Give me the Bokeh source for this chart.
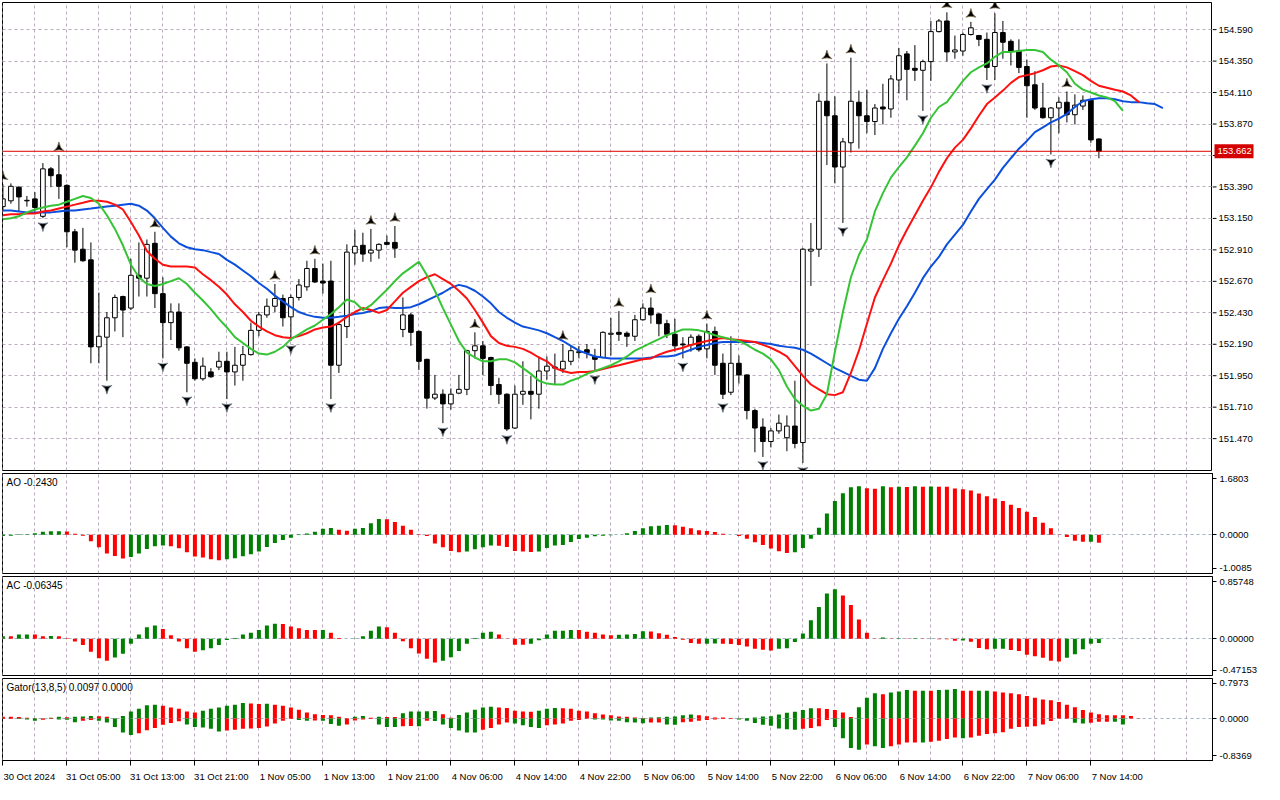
import math
from bokeh.plotting import figure
from bokeh.layouts import column, row
from bokeh.models import (ColumnDataSource, Range1d, FixedTicker, NumeralTickFormatter,
                          Grid, Span, Label, CustomJSTickFormatter)
from bokeh.core.properties import value
from bokeh.embed import file_html
from bokeh.resources import INLINE

# ---------------- data (H1 bars) ----------------
open_ = [
153.240, 153.284, 153.388, 153.284, 153.299, 153.166, 153.528, 153.483, 153.402, 153.048,
152.915, 152.834, 152.170, 152.244, 152.392, 152.554, 152.466, 152.716, 152.694, 152.960,
152.576, 152.355, 152.436, 152.170, 152.052, 151.927, 151.979, 152.016, 152.060, 151.979,
152.030, 152.111, 152.296, 152.414, 152.480, 152.539, 152.399, 152.547, 152.628, 152.768,
152.672, 152.672, 152.030, 152.325, 152.886, 152.945, 152.886, 152.908, 152.967, 152.967,
152.303, 152.414, 152.288, 152.075, 151.780, 151.809, 151.735, 151.817, 151.846, 152.141,
152.178, 152.089, 151.883, 151.809, 151.551, 151.809, 151.831, 151.809, 151.986, 152.008,
152.001, 152.060, 152.126, 152.148, 152.097, 152.089, 152.266, 152.281, 152.274, 152.251,
152.377, 152.466, 152.421, 152.347, 152.266, 152.192, 152.185, 152.251, 152.155, 152.288,
152.045, 151.824, 152.045, 151.956, 151.684, 151.558, 151.448, 151.529, 151.477, 151.566,
151.440, 152.901, 152.915, 154.044, 153.933, 153.542, 153.727, 154.036, 153.933, 153.889,
154.000, 153.985, 154.206, 154.405, 154.295, 154.280, 154.346, 154.575, 154.656, 154.420,
154.427, 154.553, 154.545, 154.516, 154.309, 154.568, 154.501, 154.427, 154.309, 154.169,
153.992, 153.918, 153.992, 154.036, 153.941, 154.007, 154.051, 153.756]
high = [
153.410, 153.417, 153.395, 153.321, 153.351, 153.572, 153.542, 153.631, 153.410, 153.070,
153.078, 152.967, 152.584, 152.436, 152.569, 152.561, 152.842, 152.967, 152.989, 153.048,
152.701, 152.502, 152.502, 152.175, 152.082, 152.089, 152.008, 152.133, 152.133, 152.170,
152.177, 152.355, 152.436, 152.539, 152.650, 152.569, 152.569, 152.687, 152.827, 152.842,
152.805, 152.827, 152.362, 152.952, 153.063, 153.041, 153.070, 152.960, 153.019, 153.092,
152.547, 152.429, 152.295, 152.080, 151.956, 151.846, 151.853, 151.956, 152.148, 152.281,
152.215, 152.095, 151.934, 151.816, 151.875, 152.060, 151.949, 152.097, 152.097, 152.119,
152.192, 152.177, 152.177, 152.192, 152.155, 152.288, 152.392, 152.443, 152.288, 152.414,
152.502, 152.547, 152.429, 152.377, 152.384, 152.244, 152.266, 152.266, 152.347, 152.325,
152.119, 152.251, 152.104, 151.960, 151.698, 151.625, 151.551, 151.654, 151.647, 151.912,
152.923, 153.115, 154.103, 154.332, 154.081, 153.764, 154.376, 154.125, 154.132, 154.022,
154.177, 154.243, 154.450, 154.427, 154.472, 154.361, 154.656, 154.671, 154.722, 154.545,
154.568, 154.649, 154.550, 154.568, 154.715, 154.656, 154.516, 154.516, 154.361, 154.273,
154.184, 154.000, 154.073, 154.118, 154.096, 154.088, 154.059, 153.760]
low = [
153.203, 153.262, 153.203, 153.240, 153.203, 153.152, 153.388, 153.299, 152.930, 152.812,
152.819, 152.045, 152.045, 151.912, 152.288, 152.244, 152.451, 152.554, 152.554, 152.466,
152.082, 152.222, 152.141, 151.824, 151.912, 151.912, 151.934, 151.993, 151.772, 151.875,
151.912, 152.104, 152.251, 152.392, 152.436, 152.325, 152.215, 152.524, 152.598, 152.657,
152.576, 151.772, 151.971, 152.237, 152.797, 152.819, 152.819, 152.842, 152.945, 152.849,
152.244, 152.178, 151.993, 151.699, 151.765, 151.588, 151.691, 151.809, 151.802, 152.082,
151.956, 151.802, 151.735, 151.529, 151.544, 151.728, 151.617, 151.699, 151.920, 151.883,
151.971, 152.030, 152.082, 152.082, 151.986, 152.082, 152.104, 152.215, 152.170, 152.215,
152.370, 152.347, 152.251, 152.237, 152.133, 152.082, 152.133, 152.133, 152.082, 151.956,
151.772, 151.802, 151.890, 151.617, 151.366, 151.330, 151.403, 151.507, 151.374, 151.396,
151.285, 152.635, 152.856, 153.557, 153.417, 153.115, 153.653, 153.682, 153.800, 153.786,
153.867, 153.918, 154.103, 154.051, 154.199, 153.970, 154.199, 154.568, 154.346, 154.368,
154.391, 154.545, 154.464, 154.206, 154.206, 154.368, 154.317, 154.258, 153.918, 153.978,
153.911, 153.638, 153.800, 153.882, 153.867, 153.978, 153.727, 153.609]
close_ = [
153.299, 153.395, 153.314, 153.288, 153.233, 153.528, 153.476, 153.395, 153.048, 152.908,
152.827, 152.170, 152.251, 152.392, 152.547, 152.451, 152.716, 152.694, 152.952, 152.576,
152.355, 152.436, 152.163, 152.045, 151.927, 152.023, 151.942, 152.060, 151.979, 152.030,
152.111, 152.296, 152.414, 152.480, 152.539, 152.392, 152.547, 152.642, 152.768, 152.665,
152.657, 152.030, 152.340, 152.893, 152.937, 152.878, 152.908, 152.952, 152.952, 152.923,
152.414, 152.281, 152.060, 151.779, 151.809, 151.735, 151.809, 151.846, 152.141, 152.178,
152.082, 151.875, 151.809, 151.544, 151.809, 151.831, 151.809, 151.986, 152.023, 152.016,
152.060, 152.141, 152.133, 152.126, 152.075, 152.281, 152.274, 152.266, 152.251, 152.377,
152.466, 152.414, 152.347, 152.266, 152.178, 152.185, 152.244, 152.148, 152.288, 152.030,
151.809, 152.045, 151.956, 151.684, 151.551, 151.448, 151.529, 151.588, 151.566, 151.433,
152.915, 152.915, 154.044, 153.933, 153.542, 153.734, 154.044, 153.933, 153.889, 153.992,
153.985, 154.214, 154.391, 154.287, 154.280, 154.346, 154.575, 154.656, 154.420, 154.435,
154.553, 154.604, 154.516, 154.302, 154.568, 154.494, 154.427, 154.302, 154.162, 153.992,
153.918, 153.992, 154.036, 153.941, 154.014, 154.051, 153.749, 153.662]

# Alligator lines as drawn (already shifted forward: jaw +8, teeth +5, lips +3 bars)
jaw = [
153.210, 153.210, 153.203, 153.196, 153.196, 153.196, 153.196, 153.203, 153.210, 153.210,
153.218, 153.225, 153.233, 153.240, 153.247, 153.255, 153.262, 153.247, 153.210, 153.151,
153.078, 153.011, 152.960, 152.930, 152.915, 152.908, 152.893, 152.879, 152.834, 152.797,
152.753, 152.709, 152.657, 152.613, 152.561, 152.517, 152.473, 152.436, 152.414, 152.399,
152.392, 152.392, 152.399, 152.407, 152.421, 152.429, 152.443, 152.466, 152.473, 152.466,
152.466, 152.473, 152.495, 152.524, 152.554, 152.583, 152.620, 152.643, 152.628, 152.598,
152.554, 152.502, 152.436, 152.392, 152.355, 152.325, 152.311, 152.296, 152.274, 152.244,
152.215, 152.178, 152.141, 152.119, 152.097, 152.089, 152.082, 152.082, 152.082, 152.082,
152.082, 152.089, 152.097, 152.097, 152.104, 152.126, 152.148, 152.170, 152.185, 152.200,
152.207, 152.207, 152.207, 152.207, 152.207, 152.200, 152.192, 152.178, 152.170, 152.163,
152.148, 152.119, 152.082, 152.045, 152.008, 151.979, 151.949, 151.920, 151.912, 152.008,
152.155, 152.274, 152.384, 152.480, 152.583, 152.694, 152.783, 152.856, 152.952, 153.026,
153.100, 153.203, 153.299, 153.373, 153.446, 153.535, 153.609, 153.682, 153.741, 153.808,
153.845, 153.882, 153.911, 153.948, 154.000, 154.044, 154.059, 154.066, 154.066, 154.059,
154.044, 154.037, 154.037, 154.029, 154.022, 153.992]
teeth = [
153.174, 153.181, 153.181, 153.188, 153.188, 153.203, 153.210, 153.225, 153.240, 153.255,
153.269, 153.284, 153.284, 153.277, 153.255, 153.218, 153.122, 153.019, 152.901, 152.842,
152.797, 152.783, 152.783, 152.783, 152.775, 152.724, 152.679, 152.628, 152.569, 152.495,
152.436, 152.369, 152.325, 152.288, 152.259, 152.244, 152.237, 152.252, 152.274, 152.303,
152.318, 152.325, 152.355, 152.399, 152.436, 152.466, 152.451, 152.429, 152.451, 152.517,
152.583, 152.628, 152.672, 152.702, 152.724, 152.687, 152.650, 152.598, 152.539, 152.451,
152.355, 152.252, 152.200, 152.178, 152.170, 152.155, 152.126, 152.089, 152.060, 152.008,
151.986, 151.971, 151.979, 151.979, 151.986, 152.001, 152.016, 152.030, 152.045, 152.060,
152.075, 152.082, 152.111, 152.133, 152.148, 152.163, 152.185, 152.200, 152.215, 152.229,
152.237, 152.229, 152.222, 152.215, 152.207, 152.185, 152.163, 152.133, 152.097, 152.023,
151.949, 151.883, 151.846, 151.809, 151.802, 151.824, 151.971, 152.141, 152.347, 152.547,
152.679, 152.805, 152.945, 153.063, 153.174, 153.284, 153.387, 153.505, 153.609, 153.690,
153.749, 153.837, 153.933, 154.022, 154.073, 154.125, 154.184, 154.228, 154.243, 154.258,
154.280, 154.309, 154.317, 154.302, 154.273, 154.243, 154.199, 154.162, 154.147, 154.132,
154.118, 154.088, 154.037]
lips = [
153.144, 153.151, 153.166, 153.196, 153.218, 153.233, 153.247, 153.255, 153.277, 153.299,
153.321, 153.306, 153.262, 153.174, 153.070, 152.945, 152.797, 152.701, 152.650, 152.635,
152.650, 152.672, 152.694, 152.650, 152.583, 152.524, 152.458, 152.384, 152.318, 152.244,
152.200, 152.155, 152.119, 152.111, 152.133, 152.170, 152.229, 152.266, 152.303, 152.333,
152.377, 152.421, 152.473, 152.532, 152.510, 152.451, 152.488, 152.547, 152.606, 152.672,
152.731, 152.775, 152.819, 152.716, 152.598, 152.466, 152.340, 152.215, 152.126, 152.089,
152.060, 152.060, 152.075, 152.075, 152.052, 152.008, 151.964, 151.912, 151.890, 151.883,
151.883, 151.912, 151.934, 151.964, 151.986, 152.008, 152.030, 152.060, 152.097, 152.141,
152.170, 152.200, 152.229, 152.259, 152.281, 152.303, 152.303, 152.296, 152.281, 152.259,
152.244, 152.229, 152.215, 152.185, 152.148, 152.119, 152.075, 151.993, 151.868, 151.772,
151.720, 151.684, 151.698, 151.809, 152.133, 152.436, 152.701, 152.871, 152.989, 153.203,
153.343, 153.461, 153.542, 153.616, 153.705, 153.800, 153.918, 154.000, 154.037, 154.118,
154.199, 154.265, 154.302, 154.332, 154.383, 154.420, 154.420, 154.427, 154.435, 154.435,
154.420, 154.361, 154.317, 154.265, 154.177, 154.132, 154.110, 154.088, 154.073, 154.044,
153.970]

fractal_up = [0, 7, 19, 34, 39, 46, 49, 59, 70, 77, 81, 88, 103, 106, 118, 121, 124, 133]
fractal_dn = [5, 13, 20, 23, 28, 36, 41, 55, 63, 74, 85, 90, 95, 100, 105, 115, 123, 131]

ao = [
-0.04, -0.03, 0.01, 0.012, 0.04, 0.09, 0.10, 0.105, 0.095, 0.03,
-0.03, -0.20, -0.38, -0.57, -0.64, -0.72, -0.67, -0.57, -0.43, -0.35,
-0.33, -0.35, -0.41, -0.53, -0.66, -0.69, -0.74, -0.77, -0.74, -0.71,
-0.65, -0.59, -0.51, -0.37, -0.25, -0.16, -0.09, 0.01, 0.035, 0.09,
0.18, 0.20, 0.15, 0.12, 0.18, 0.20, 0.34, 0.47, 0.465, 0.38,
0.27, 0.15, 0.01, -0.04, -0.27, -0.38, -0.49, -0.53, -0.51, -0.44,
-0.38, -0.33, -0.335, -0.37, -0.49, -0.51, -0.52, -0.51, -0.40, -0.33,
-0.31, -0.22, -0.13, -0.09, -0.05, -0.03, -0.015, -0.005, 0.04, 0.11,
0.19, 0.25, 0.27, 0.29, 0.285, 0.24, 0.19, 0.13, 0.11, 0.08,
0.03, -0.005, -0.04, -0.12, -0.23, -0.31, -0.42, -0.50, -0.55, -0.53,
-0.40, -0.12, 0.21, 0.64, 1.01, 1.25, 1.43, 1.46, 1.40, 1.38,
1.46, 1.43, 1.44, 1.435, 1.46, 1.445, 1.45, 1.445, 1.44, 1.39,
1.37, 1.33, 1.24, 1.16, 1.09, 1.01, 0.90, 0.80, 0.69, 0.53,
0.36, 0.19, -0.01, -0.07, -0.18, -0.215, -0.21, -0.243]
ao_colors = ("GGGGGGGG RRRRRRRR GGGGG RRRRRRR GGGGGGGGGGGGGG RR GGGG RRRRRRRRRR GGGG RRRRR "
             "GGGGGGGGGGGGGGGGG RRRRRRRRRRRRRRR GGGGGGGGG RR GRGRGRG RRRRRRRRRRRRRRRRRRR GR")

ac = [
0.04, 0.04, 0.066, 0.066, 0.064, 0.04, 0.042, 0.04, 0.01, -0.04,
-0.093, -0.195, -0.293, -0.328, -0.28, -0.226, -0.075, 0.066, 0.173, 0.2,
0.146, 0.053, -0.04, -0.142, -0.195, -0.173, -0.142, -0.093, -0.018, 0.013,
0.066, 0.093, 0.133, 0.2, 0.226, 0.222, 0.186, 0.16, 0.133, 0.132,
0.134, 0.093, 0.013, 0.002, 0.004, 0.04, 0.12, 0.186, 0.173, 0.093,
-0.035, -0.142, -0.222, -0.3, -0.355, -0.328, -0.275, -0.182, -0.075, 0.013,
0.093, 0.106, 0.066, -0.003, -0.089, -0.09, -0.075, -0.022, 0.066, 0.12,
0.121, 0.133, 0.132, 0.106, 0.093, 0.066, 0.053, 0.062, 0.065, 0.071,
0.115, 0.11, 0.084, 0.062, 0.027, -0.013, -0.062, -0.075, -0.073, -0.07,
-0.075, -0.078, -0.093, -0.115, -0.15, -0.164, -0.177, -0.15, -0.14, -0.049,
0.08, 0.28, 0.48, 0.68, 0.745, 0.65, 0.51, 0.29, 0.093, 0.004,
0.02, 0.004, 0.01, 0.004, 0.01, -0.004, 0.004, -0.005, -0.006, -0.027,
-0.025, -0.044, -0.137, -0.155, -0.15, -0.148, -0.168, -0.182, -0.24, -0.26,
-0.284, -0.328, -0.341, -0.284, -0.23, -0.155, -0.075, -0.063]
ac_colors = ("GRGGRRGRRR RRRRGGGGGG RRRRRGGGGG GGGGGRRRRR GRRRGGGGRR RRRRRGGGGG GGRRRRGGGG "
             "GGRRRRRGGG GRRRRRRRGG RRRRRRRGGG GGGGGRRRRR GRGRGRGRRR GRRRGGRRRR RRRGGGGG")

gator_up = [
0.04, 0.04, 0.035, 0.02, 0.008, 0.01, 0.02, 0.04, 0.03, 0.04,
0.045, 0.06, 0.055, 0.04, 0.01, 0.06, 0.16, 0.22, 0.30, 0.31,
0.29, 0.25, 0.22, 0.16, 0.14, 0.18, 0.22, 0.25, 0.29, 0.31,
0.35, 0.34, 0.33, 0.335, 0.31, 0.29, 0.25, 0.20, 0.14, 0.10,
0.08, 0.075, 0.04, 0.01, 0.04, 0.06, 0.02, 0.04, 0.038, 0.035,
0.12, 0.16, 0.16, 0.165, 0.17, 0.10, 0.02, 0.08, 0.14, 0.20,
0.25, 0.27, 0.25, 0.24, 0.18, 0.16, 0.155, 0.18, 0.22, 0.24,
0.235, 0.22, 0.18, 0.16, 0.12, 0.09, 0.075, 0.046, 0.04, 0.026,
0.013, 0.026, 0.033, 0.04, 0.046, 0.078, 0.09, 0.078, 0.052, 0.026,
0.024, 0.013, 0.007, 0.013, 0.026, 0.046, 0.052, 0.09, 0.13, 0.157,
0.196, 0.235, 0.234, 0.216, 0.196, 0.137, 0.039, 0.255, 0.47, 0.569,
0.549, 0.588, 0.608, 0.647, 0.627, 0.63, 0.627, 0.647, 0.65, 0.667,
0.627, 0.626, 0.627, 0.628, 0.608, 0.588, 0.569, 0.549, 0.51, 0.47,
0.431, 0.412, 0.373, 0.314, 0.255, 0.196, 0.137, 0.098, 0.078, 0.077,
0.076, 0.059, 0.0097]
gator_up_colors = ("RRRRRGGGRG GGRRRGGGGG RRRRRGGGGG GRRGRRRRRR RRRRGGRGRR GGGGGRRGGG GGRRRRRGGG "
                   "RRRRRRRRRR RGGGGGGRRR RRRGGGGGGG GGRRRRRGGG RGGGRGRGGG RRGGRRRRRR RRRRRRRRRR RRR")
gator_dn = [
-0.01, -0.01, -0.01, -0.02, -0.05, -0.026, -0.01, -0.02, -0.026, -0.08,
-0.05, -0.03, -0.05, -0.09, -0.19, -0.31, -0.37, -0.33, -0.26, -0.21,
-0.14, -0.10, -0.06, -0.13, -0.19, -0.20, -0.23, -0.29, -0.27, -0.25,
-0.23, -0.225, -0.21, -0.18, -0.11, -0.05, -0.01, -0.03, -0.05, -0.04,
-0.05, -0.12, -0.16, -0.13, -0.04, -0.02, -0.01, -0.13, -0.19, -0.19,
-0.17, -0.165, -0.17, -0.05, -0.055, -0.13, -0.21, -0.27, -0.31, -0.315,
-0.25, -0.21, -0.13, -0.09, -0.11, -0.15, -0.19, -0.21, -0.15, -0.13,
-0.11, -0.05, -0.03, -0.005, -0.02, -0.02, -0.04, -0.05, -0.08, -0.09,
-0.105, -0.09, -0.085, -0.13, -0.14, -0.08, -0.07, -0.05, -0.03, -0.02,
-0.01, -0.005, -0.02, -0.05, -0.10, -0.14, -0.16, -0.22, -0.24, -0.248,
-0.229, -0.209, -0.17, -0.033, -0.19, -0.444, -0.66, -0.70, -0.58, -0.62,
-0.66, -0.62, -0.58, -0.54, -0.535, -0.54, -0.52, -0.50, -0.46, -0.425,
-0.444, -0.425, -0.386, -0.346, -0.327, -0.307, -0.229, -0.19, -0.185, -0.17,
-0.13, -0.052, 0.0, -0.005, -0.092, -0.111, -0.092, -0.072, -0.071, -0.072,
-0.13]
gator_dn_colors = ("RRGGGRRGGG RRGGGGGRRR RRRGGGGGRR RRRRRRRGGR GGGRRRRGGG RRGRGGGGGG RRRRGGGGRR "
                   "RRRRGGGGGG GRRGGRRRRR RRGGGGGGGG RRRRGGGGRG GRRRRGRRRR GRRRRRRRRR RRRRGGRRRG G")

price_ticks = [151.470, 151.710, 151.950, 152.190, 152.430, 152.670, 152.910, 153.150,
               153.390, 153.630, 153.870, 154.110, 154.350, 154.590]
price_min, price_max = 151.227, 154.797
last_price = 153.662
ao_scale = (-1.0085, 1.6803)
ac_scale = (-0.47153, 0.85748)
gator_scale = (-0.8369, 0.7973)

time_labels = ["30 Oct 2024", "31 Oct 05:00", "31 Oct 13:00", "31 Oct 21:00", "1 Nov 05:00",
               "1 Nov 13:00", "1 Nov 21:00", "4 Nov 06:00", "4 Nov 14:00", "4 Nov 22:00",
               "5 Nov 06:00", "5 Nov 14:00", "5 Nov 22:00", "6 Nov 06:00", "6 Nov 14:00",
               "6 Nov 22:00", "7 Nov 06:00", "7 Nov 14:00"]
time_label_bars = [0, 8, 16, 24, 32, 40, 48, 56, 64, 72, 80, 88, 96, 104, 112, 120, 128, 136]

# ---------------- styling / layout ----------------
FONT = "Liberation Sans"
FS = "9.5px"
W = 1264
LB, RB = 2, 52
FRAME_W = W - LB - RB
PX_PER_BAR = 8.0
X0 = -0.05
X1 = X0 + FRAME_W / PX_PER_BAR
xr = Range1d(X0, X1)
GRID_COLOR = "#b9abbd"
ZERO_COLOR = "#9fb2c6"
GREEN = "#008000"
RED = "#ff0000"
vgrid_ticks = list(range(0, 160, 4))
LABEL_SHIFT = 3.3          # time labels start at their tick (label centre ~3.3 bars right)


def clean(s):
    return s.replace(" ", "")


def to_colors(s, n):
    cols = [GREEN if ch == "G" else RED for ch in clean(s)]
    return (cols + [RED] * n)[:n]


def base_fig(width, height, y_range, top, bottom, right, y_axis=True, x_axis=False):
    p = figure(width=width, height=height, x_range=xr, y_range=y_range,
               output_backend="svg", toolbar_location=None, tools="",
               y_axis_location="right" if y_axis else None,
               x_axis_location="below" if x_axis else None,
               min_border_left=LB, min_border_right=right,
               min_border_top=top, min_border_bottom=bottom)
    p.outline_line_color = "black"
    p.outline_line_width = 1
    p.background_fill_color = "white"
    p.border_fill_color = "white"
    for g in p.grid:
        g.visible = False
    if y_axis:
        ax = p.yaxis[0]
        ax.axis_line_color = "black"
        ax.major_tick_line_color = "black"
        ax.major_tick_out = 4
        ax.major_tick_in = 0
        ax.minor_tick_line_color = None
        ax.major_label_standoff = 3
        ax.major_label_text_font = FONT
        ax.major_label_text_font_size = FS
        ax.major_label_text_color = "black"
    p.add_layout(Grid(dimension=0, ticker=FixedTicker(ticks=vgrid_ticks),
                      grid_line_color=GRID_COLOR, grid_line_dash="3 3", grid_line_width=1))
    return p


# ---------------- main price panel ----------------
HM = 472
price_range = Range1d(price_min, price_max)
pm = base_fig(W - RB, HM, price_range, 2, 2, 0, y_axis=False)
pm.add_layout(Grid(dimension=1, ticker=FixedTicker(ticks=price_ticks),
                   grid_line_color=GRID_COLOR, grid_line_dash="3 3", grid_line_width=1))

n = len(close_)
bars = list(range(n))
body_top = [max(o, c) for o, c in zip(open_, close_)]
body_bot = [min(o, c) for o, c in zip(open_, close_)]
body_fill = ["white" if c > o else "black" for o, c in zip(open_, close_)]
csrc = ColumnDataSource(dict(x=bars, high=high, low=low, top=body_top, bottom=body_bot, fill=body_fill))

pm.add_layout(Span(location=last_price, dimension="width", line_color="#e00000", line_width=1))
pm.segment(x0="x", y0="low", x1="x", y1="high", source=csrc, line_color="black", line_width=1)
pm.vbar(x="x", width=0.58, top="top", bottom="bottom", source=csrc,
        fill_color="fill", line_color="black", line_width=1)

pm.line(list(range(len(jaw))), jaw, line_color="#0b4fdc", line_width=2)
pm.line(list(range(len(teeth))), teeth, line_color="#ff1010", line_width=2)
pm.line(list(range(len(lips))), lips, line_color="#36c436", line_width=2)

# Bill Williams fractals: notched arrowheads above highs / below lows
pad = 0.058
pm.scatter(fractal_up, [high[i] + pad for i in fractal_up], marker="triangle_pin",
           size=10, fill_color="black", line_color="#6b5a3a", line_width=0.7)
pm.scatter(fractal_dn, [low[i] - pad for i in fractal_dn], marker="triangle_pin", angle=math.pi,
           size=10, fill_color="black", line_color="#5a6a7a", line_width=0.7)

# price scale of the main panel: a narrow figure sharing the price range
pax = figure(width=RB, height=HM, x_range=Range1d(0, RB), y_range=price_range,
             output_backend="svg", toolbar_location=None, tools="",
             x_axis_location=None, y_axis_location=None,
             min_border_left=0, min_border_right=0, min_border_top=2, min_border_bottom=2)
pax.outline_line_color = None
pax.background_fill_color = "white"
pax.border_fill_color = "white"
for g in pax.grid:
    g.visible = False
pax.segment(x0=[0] * len(price_ticks), x1=[4] * len(price_ticks), y0=price_ticks, y1=price_ticks,
            line_color="black", line_width=1)
pax.text(x=[6] * len(price_ticks), y=price_ticks, text=[f"{t:.3f}" for t in price_ticks],
         text_baseline="middle", text_align="left", text_font=value(FONT),
         text_font_size=value(FS), text_color="black")
pax.rect(x=[21.5], y=[last_price], width=[39], height=[14], height_units="screen",
         fill_color="#d40000", line_color=None)
pax.text(x=[5], y=[last_price], text=[f"{last_price:.3f}"], text_baseline="middle",
         text_align="left", text_font=value(FONT), text_font_size=value(FS), text_color="white")


def sub_panel(height, scale, pad_frac, fmt, label_text, top, bottom, with_x=False):
    lo, hi = scale
    pd = (hi - lo) * pad_frac
    p = base_fig(W, height, Range1d(lo - pd, hi + pd), top, bottom, RB, y_axis=True, x_axis=with_x)
    p.yaxis[0].ticker = FixedTicker(ticks=[lo, 0.0, hi])
    p.yaxis[0].formatter = NumeralTickFormatter(format=fmt)
    p.add_layout(Grid(dimension=1, ticker=FixedTicker(ticks=[0.0]),
                      grid_line_color=ZERO_COLOR, grid_line_dash="3 3", grid_line_width=1))
    p.add_layout(Label(x=X0, y=hi + pd, text=label_text, x_offset=4, y_offset=-3,
                       text_baseline="top", text_align="left", text_font=FONT,
                       text_font_size="10px", text_color="black"))
    return p


def hist(p, vals, colors, upward=True):
    xs = list(range(len(vals)))
    zeros = [0.0] * len(vals)
    src = ColumnDataSource(dict(x=xs, top=vals if upward else zeros,
                                bottom=zeros if upward else vals, c=to_colors(colors, len(vals))))
    p.vbar(x="x", width=0.5, top="top", bottom="bottom", source=src,
           fill_color="c", line_color=None)


pao = sub_panel(103, ao_scale, 0.06, "0.0000", "AO -0.2430", 1, 2)
hist(pao, ao, ao_colors)

pac = sub_panel(102, ac_scale, 0.06, "0.00000", "AC -0.06345", 1, 2)
hist(pac, ac, ac_colors)

pgt = sub_panel(107, gator_scale, 0.065, "0.0000", "Gator(13,8,5) 0.0097 0.0000", 1, 22, with_x=True)
hist(pgt, gator_up, gator_up_colors, upward=True)
hist(pgt, gator_dn, gator_dn_colors, upward=False)

xa = pgt.xaxis[0]
xa.ticker = FixedTicker(ticks=[b + LABEL_SHIFT for b in time_label_bars], minor_ticks=time_label_bars)
xa.formatter = CustomJSTickFormatter(args=dict(labels=time_labels, shift=LABEL_SHIFT),
                                     code="const i = Math.round((tick - shift) / 8); "
                                          "return (i >= 0 && i < labels.length) ? labels[i] : '';")
xa.axis_line_color = "black"
xa.major_tick_line_color = None
xa.major_tick_out = 0
xa.major_tick_in = 0
xa.minor_tick_line_color = "black"
xa.minor_tick_out = 5
xa.minor_tick_in = 0
xa.major_label_standoff = 5
xa.major_label_text_font = FONT
xa.major_label_text_font_size = FS
xa.major_label_text_color = "black"

layout = column(row(pm, pax, spacing=0), pao, pac, pgt, spacing=0)
open("out.html", "w").write(file_html(layout, INLINE))
